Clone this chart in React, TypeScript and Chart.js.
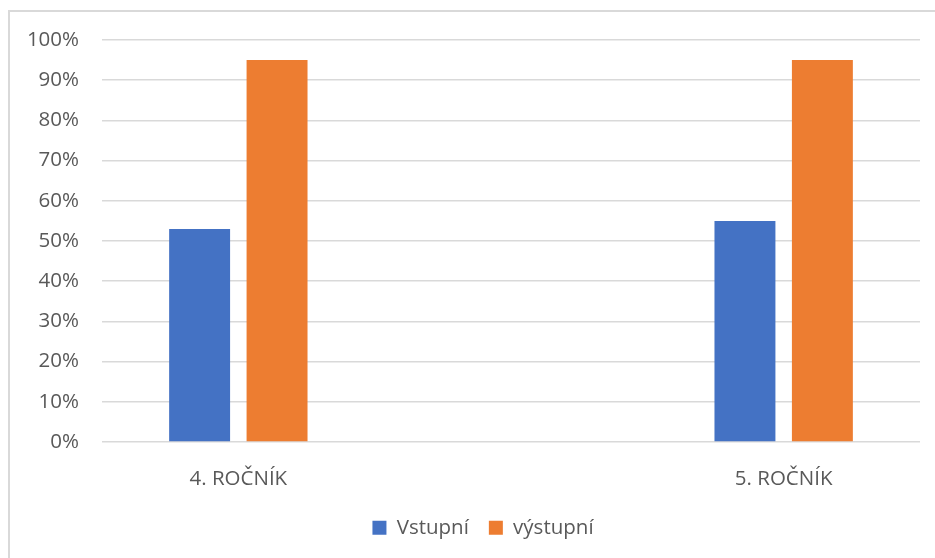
import React, { useEffect, useRef } from "react";
import { Chart, registerables } from "chart.js";

Chart.register(...registerables);

const categories = ["4. ROČNÍK", "", "5. ROČNÍK"];
const vstupni = [53, null, 55];
const vystupni = [95, null, 95];
const seriesNames = ["Vstupní", "výstupní"];
const yMin = 0;
const yMax = 100;
const yStep = 10;

const FONT = "'Open Sans', sans-serif";
const TEXT = "#595959";

const legendShift = {
  id: "legendShift",
  afterLayout(chart: any) {
    if (chart.legend) {
      chart.legend.left = 46;
    }
  },
};

export default function App() {
  const ref = useRef<HTMLCanvasElement | null>(null);
  useEffect(() => {
    if (!ref.current) return;
    const chart = new Chart(ref.current, {
      type: "bar",
      data: {
        labels: categories,
        datasets: [
          {
            label: seriesNames[0],
            data: vstupni,
            backgroundColor: "#4472C4",
            categoryPercentage: 0.568,
            barPercentage: 0.787,
          },
          {
            label: seriesNames[1],
            data: vystupni,
            backgroundColor: "#ED7D31",
            categoryPercentage: 0.568,
            barPercentage: 0.787,
          },
        ],
      },
      plugins: [legendShift],
      options: {
        animation: false,
        responsive: false,
        maintainAspectRatio: false,
        layout: { padding: { top: 40, right: 15, bottom: 10, left: 0 } },
        plugins: {
          tooltip: { enabled: false },
          legend: {
            position: "bottom",
            labels: {
              color: TEXT,
              font: { family: FONT, size: 20.5 },
              boxWidth: 14,
              boxHeight: 14,
              padding: 20,
            },
          },
        },
        scales: {
          x: {
            grid: { display: false },
            border: { display: false },
            ticks: {
              color: TEXT,
              font: { family: FONT, size: 20.5 },
              padding: 17,
              maxRotation: 0,
              autoSkip: false,
            },
            afterFit: (s: any) => {
              s.height = 55.5;
            },
          },
          y: {
            min: yMin,
            max: yMax,
            grid: { color: "#d9d9d9", lineWidth: 1.5, drawTicks: false },
            border: { display: false },
            ticks: {
              stepSize: yStep,
              color: TEXT,
              font: { family: FONT, size: 20.5 },
              padding: 23,
              callback: (v: any) => v + "%",
            },
            afterFit: (s: any) => {
              s.width = 102;
            },
          },
        },
      },
    });
    return () => chart.destroy();
  }, []);

  return (
    <div
      style={{
        position: "fixed",
        left: 0,
        top: 0,
        width: 935,
        height: 558,
        overflow: "hidden",
        background: "#fff",
      }}
    >
      <div
        style={{
          position: "absolute",
          left: 8,
          top: 10,
          width: 940,
          height: 560,
          border: "2px solid #d9d9d9",
        }}
      />
      <canvas
        ref={ref}
        width={935}
        height={558}
        style={{ position: "absolute", left: 0, top: 0, width: 935, height: 558 }}
      />
    </div>
  );
}
